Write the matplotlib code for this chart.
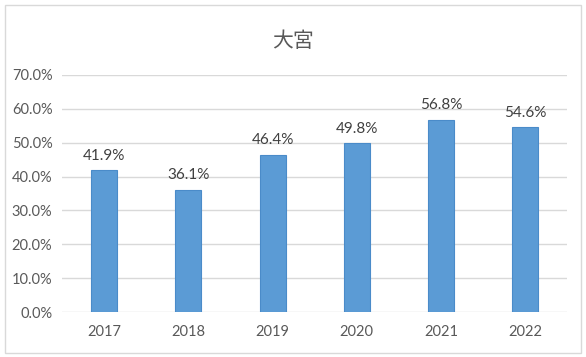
import matplotlib
matplotlib.use("Agg")
import matplotlib.pyplot as plt
from matplotlib.patches import Rectangle

years = ["2017", "2018", "2019", "2020", "2021", "2022"]
rates = [41.9, 36.1, 46.4, 49.8, 56.8, 54.6]
yticks = [0, 10, 20, 30, 40, 50, 60, 70]

plt.rcParams["font.family"] = ["Lato", "Noto Sans CJK JP", "DejaVu Sans"]

fig = plt.figure(figsize=(5.86, 3.57), dpi=100)
ax = fig.add_axes([0.106, 0.126, 0.862, 0.664])

x = range(len(years))
ax.bar(x, rates, width=0.31, color="#5B9BD5", edgecolor="#4A8BC9", linewidth=0.8, zorder=3)
for i, v in enumerate(rates):
    ax.text(i, v + 2.2, f"{v:.1f}%", ha="center", va="bottom", fontsize=11, color="#404040")

ax.set_xlim(-0.5, len(years) - 0.5)
ax.set_ylim(0, 70)
ax.set_yticks(yticks)
ax.set_yticklabels([f"{t:.1f}%" for t in yticks])
ax.set_xticks(list(x))
ax.set_xticklabels(years)
ax.tick_params(axis="both", length=0, colors="#595959", labelsize=10.5)
ax.tick_params(axis="x", pad=9)
ax.tick_params(axis="y", pad=7)
ax.grid(axis="y", color="#D9D9D9", linewidth=1, zorder=0)
for s in ax.spines.values():
    s.set_visible(False)

fig.text(0.5, 0.885, "大宮", ha="center", va="center", fontsize=15, color="#595959",
         family=["Noto Sans CJK JP", "DejaVu Sans"])

fig.patches.append(Rectangle((0.009, 0.012), 0.982, 0.974, transform=fig.transFigure,
                             fill=False, edgecolor="#D9D9D9", linewidth=1))

fig.savefig("out.png", dpi=100)
